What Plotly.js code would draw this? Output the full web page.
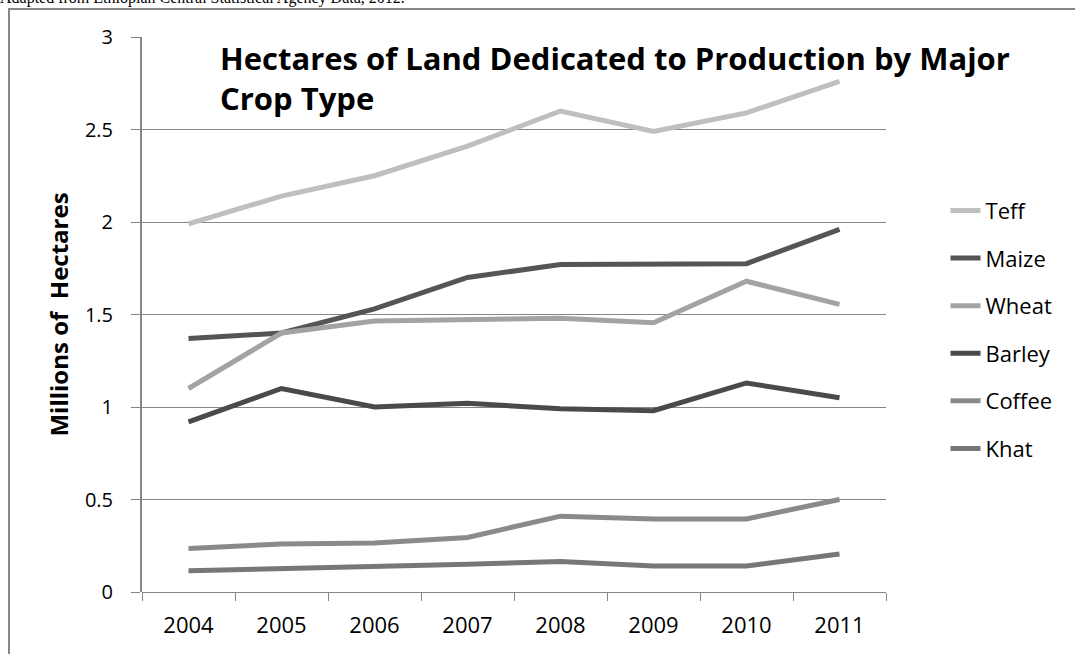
<!DOCTYPE html>
<html>
<head>
<meta charset="utf-8">
<script src="https://cdn.plot.ly/plotly-3.0.1.min.js"></script>
<style>
  html, body { margin: 0; padding: 0; background: #ffffff; overflow: hidden; }
  #wrap { position: relative; width: 1075px; height: 654px; }
  #source {
    position: absolute; left: 0; top: -11px;
    font-family: "Liberation Serif", "DejaVu Serif", serif; font-size: 16px; color: #000;
    white-space: nowrap;
  }
  #frame {
    position: absolute; left: 8px; top: 8px; width: 1200px; height: 800px;
    border-left: 2px solid #868686; border-top: 2px solid #868686;
  }
  #chart { position: absolute; left: 0; top: 0; width: 1075px; height: 654px; }
</style>
</head>
<body>
<div id="wrap">
  <div id="source">Adapted from Ethiopian Central Statistical Agency Data, 2012.</div>
  <div id="frame"></div>
  <div id="chart"></div>
</div>
<script>
// Crop area in millions of hectares, by year
const years = ["2004", "2005", "2006", "2007", "2008", "2009", "2010", "2011"];
const teff   = [1.99, 2.14, 2.25, 2.41, 2.60, 2.49, 2.59, 2.76];
const maize  = [1.37, 1.40, 1.53, 1.70, 1.77, 1.77, 1.775, 1.96];
const wheat  = [1.10, 1.40, 1.465, 1.475, 1.48, 1.455, 1.68, 1.555];
const barley = [0.92, 1.10, 1.00, 1.02, 0.99, 0.98, 1.13, 1.05];
const coffee = [0.235, 0.26, 0.265, 0.295, 0.41, 0.395, 0.395, 0.50];
const khat   = [0.115, 0.125, 0.14, 0.15, 0.165, 0.14, 0.14, 0.205];

const crops = [
  { name: "Teff",   y: teff,   color: "#bfbfbf" },
  { name: "Maize",  y: maize,  color: "#555555" },
  { name: "Wheat",  y: wheat,  color: "#a3a3a3" },
  { name: "Barley", y: barley, color: "#4a4a4a" },
  { name: "Coffee", y: coffee, color: "#8a8a8a" },
  { name: "Khat",   y: khat,   color: "#777777" }
];

const font = '"Open Sans", "Noto Sans", sans-serif';

const traces = crops.map(c => ({
  type: "scatter",
  mode: "lines",
  name: c.name,
  legendgroup: c.name,
  x: years,
  y: c.y,
  line: { color: c.color, width: 5 },
  hoverinfo: "x+y+name"
}));

const layout = {
  width: 1075,
  height: 654,
  paper_bgcolor: "rgba(0,0,0,0)",
  plot_bgcolor: "rgba(0,0,0,0)",
  margin: { l: 142, r: 189, t: 37, b: 62, pad: 0 },
  font: { family: font, size: 20, color: "#000000" },
  showlegend: true,
  legend: {
    x: 1.08, xanchor: "left",
    y: 0.725, yanchor: "top",
    font: { family: font, size: 22, color: "#000000" },
    tracegroupgap: 16,
    bgcolor: "rgba(0,0,0,0)"
  },
  xaxis: {
    type: "category",
    range: [-0.5, 7.5],
    tickson: "boundaries",
    ticks: "outside",
    ticklen: 8,
    tickcolor: "#868686",
    tickwidth: 1,
    ticklabelstandoff: 18,
    showgrid: false,
    showline: false,
    zeroline: false,
    tickfont: { family: font, size: 22, color: "#000000" },
    fixedrange: true
  },
  yaxis: {
    range: [0, 3],
    dtick: 0.5,
    tick0: 0,
    ticks: "outside",
    ticklen: 9,
    tickcolor: "#868686",
    tickwidth: 1,
    ticklabelstandoff: 14,
    showline: true,
    linecolor: "#868686",
    linewidth: 2,
    showgrid: true,
    gridcolor: "#868686",
    gridwidth: 1,
    zeroline: true,
    zerolinecolor: "#868686",
    zerolinewidth: 1,
    tickfont: { family: font, size: 20, color: "#000000" },
    title: {
      text: "<b>Millions of  Hectares</b>",
      font: { family: font, size: 24, color: "#000000" },
      standoff: 9
    },
    fixedrange: true
  },
  annotations: [
    {
      text: "<b>Hectares of Land Dedicated to Production by Major</b>",
      xref: "paper", yref: "paper",
      x: 0.102, xanchor: "left",
      y: 0.962, yanchor: "middle",
      showarrow: false,
      font: { family: font, size: 31, color: "#000000" }
    },
    {
      text: "<b>Crop Type</b>",
      xref: "paper", yref: "paper",
      x: 0.102, xanchor: "left",
      y: 0.890, yanchor: "middle",
      showarrow: false,
      font: { family: font, size: 31, color: "#000000" }
    }
  ]
};

Plotly.newPlot("chart", traces, layout, { displayModeBar: false, staticPlot: true });
</script>
</body>
</html>
